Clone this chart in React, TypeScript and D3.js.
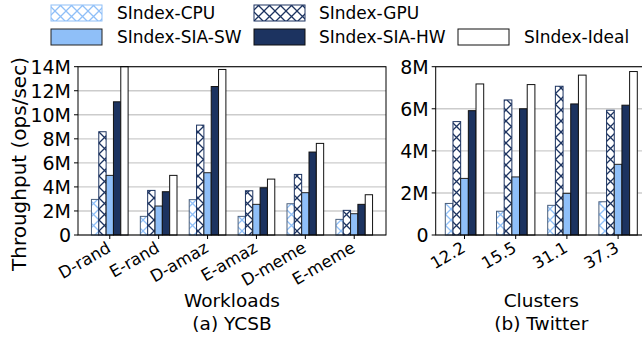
import React from "react";
import { scaleLinear } from "d3";

// data (values in millions of ops/sec)
const ycsbWorkloads = ["D-rand", "E-rand", "D-amaz", "E-amaz", "D-meme", "E-meme"];
const ycsbCPU = [2.96, 1.55, 2.94, 1.55, 2.6, 1.3];
const ycsbGPU = [8.59, 3.71, 9.14, 3.68, 5.04, 2.05];
const ycsbSW = [4.96, 2.41, 5.18, 2.55, 3.52, 1.77];
const ycsbHW = [11.08, 3.6, 12.35, 3.93, 6.9, 2.55];
const ycsbIdeal = [14.3, 4.96, 13.77, 4.65, 7.62, 3.35];

const twClusters = ["12.2", "15.5", "31.1", "37.3"];
const twCPU = [1.5, 1.13, 1.41, 1.58];
const twGPU = [5.39, 6.42, 7.07, 5.93];
const twSW = [2.69, 2.76, 1.98, 3.36];
const twHW = [5.91, 6.0, 6.23, 6.17];
const twIdeal = [7.18, 7.15, 7.6, 7.77];

const ycsbTicks = [0, 2, 4, 6, 8, 10, 12, 14];
const twTicks = [0, 2, 4, 6, 8];

const LIGHT = "#8fbff8";
const NAVY = "#1c3360";
const FONT = "DejaVu Sans";

const seriesNames = ["SIndex-CPU", "SIndex-GPU", "SIndex-SIA-SW", "SIndex-SIA-HW", "SIndex-Ideal"];
const seriesStyle = [
  { fill: "url(#hatchCPU)", stroke: "#4a5f7c" },
  { fill: "url(#hatchGPU)", stroke: NAVY },
  { fill: LIGHT, stroke: "#222" },
  { fill: NAVY, stroke: "#111" },
  { fill: "#fff", stroke: "#111" },
];
const legendStroke = [LIGHT, NAVY, "#222", "#111", "#111"];

const BARW = 0.15;
const tickLabel = (v: number) => (v === 0 ? "0" : v + "M");

function Panel({ cats, series, ticks, x0, x1, dom, ymax, xlabel, title }: any) {
  const top = 66.7, bottom = 235;
  const x = scaleLinear().domain(dom).range([x0, x1]);
  const y = scaleLinear().domain([0, ymax]).range([bottom, top]).clamp(true);
  const bw = x(BARW) - x(0);
  const mid = (x0 + x1) / 2;
  return (
    <g>
      {ticks.map((t: number) => (
        <g key={t}>
          <line x1={x0} x2={x1} y1={y(t)} y2={y(t)} stroke="#cccccc" strokeWidth={1.4} />
          <line x1={x0 - 4} x2={x0} y1={y(t)} y2={y(t)} stroke="#000" />
          <text x={x0 - 7} y={y(t)} dy="0.36em" textAnchor="end" fontSize={19} fontFamily={FONT}>
            {tickLabel(t)}
          </text>
        </g>
      ))}
      {series.map((vals: number[], s: number) =>
        vals.map((v, i) => {
          const left = x(i + (s - 2.5) * BARW);
          return (
            <rect key={s + "-" + i} x={left} y={y(v)} width={bw} height={bottom - y(v)}
              fill={seriesStyle[s].fill} stroke={seriesStyle[s].stroke} strokeWidth={1} />
          );
        })
      )}
      <rect x={x0} y={top} width={x1 - x0} height={bottom - top} fill="none" stroke="#000" strokeWidth={1} />
      {cats.map((c: string, i: number) => (
        <g key={c}>
          <line x1={x(i)} x2={x(i)} y1={bottom} y2={bottom + 4} stroke="#000" />
          <text transform={`translate(${x(i) + 2},${bottom + 16}) rotate(-30)`} textAnchor="end"
            fontSize={16.5} fontFamily={FONT}>
            {c}
          </text>
        </g>
      ))}
      <text x={mid} y={307} textAnchor="middle" fontSize={18.5} fontFamily={FONT}>{xlabel}</text>
      <text x={mid} y={330} textAnchor="middle" fontSize={18.5} fontFamily={FONT}>{title}</text>
    </g>
  );
}

export default function App() {
  const legendPos = [
    { x: 51, y: 5, tx: 117 },
    { x: 254, y: 5, tx: 319 },
    { x: 51, y: 29, tx: 117 },
    { x: 254, y: 29, tx: 319 },
    { x: 458, y: 29, tx: 524 },
  ];
  return (
    <svg width={642} height={339} style={{ position: "absolute", left: 0, top: 0, background: "#fff" }}>
      <defs>
        <pattern id="hatchCPU" patternUnits="userSpaceOnUse" width={11} height={11}>
          <rect width={11} height={11} fill="#fff" />
          <path d="M0,0L11,11M11,0L0,11" stroke={LIGHT} strokeWidth={1.3} />
        </pattern>
        <pattern id="hatchGPU" patternUnits="userSpaceOnUse" width={11} height={11}>
          <rect width={11} height={11} fill="#fff" />
          <path d="M0,0L11,11M11,0L0,11" stroke={NAVY} strokeWidth={1.3} />
        </pattern>
      </defs>
      <rect width={642} height={339} fill="#fff" />
      {seriesNames.map((n, i) => (
        <g key={n}>
          <rect x={legendPos[i].x} y={legendPos[i].y} width={51} height={16}
            fill={seriesStyle[i].fill} stroke={legendStroke[i]} strokeWidth={1} />
          <text x={legendPos[i].tx} y={legendPos[i].y + 14} fontSize={17} fontFamily={FONT}>{n}</text>
        </g>
      ))}
      <text transform="translate(26,164) rotate(-90)" textAnchor="middle" fontSize={20} fontFamily={FONT}>
        Throughput (ops/sec)
      </text>
      <Panel cats={ycsbWorkloads} series={[ycsbCPU, ycsbGPU, ycsbSW, ycsbHW, ycsbIdeal]} ticks={ycsbTicks}
        x0={78} x1={386} dom={[-0.65, 5.65]} ymax={14} xlabel="Workloads" title="(a) YCSB" />
      <Panel cats={twClusters} series={[twCPU, twGPU, twSW, twHW, twIdeal]} ticks={twTicks}
        x0={435.7} x1={646.9} dom={[-0.5625, 3.5625]} ymax={8} xlabel="Clusters" title="(b) Twitter" />
    </svg>
  );
}
